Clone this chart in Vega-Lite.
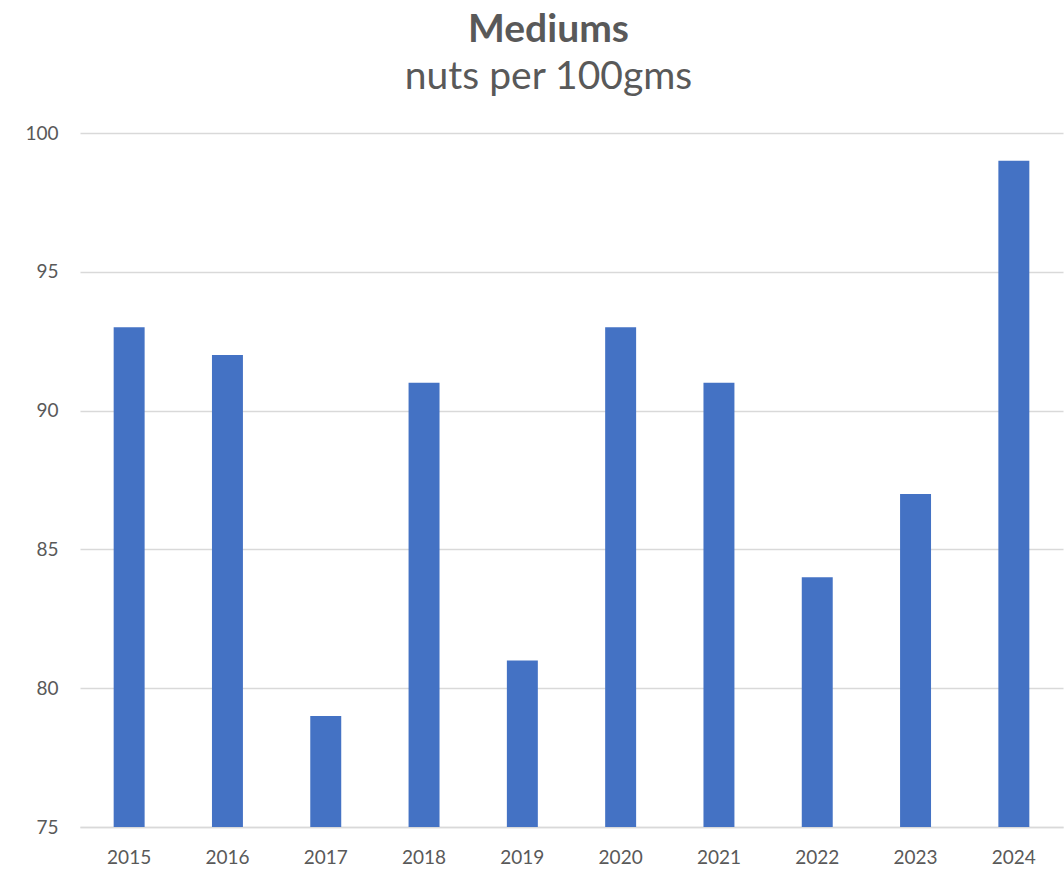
{
  "$schema": "https://vega.github.io/schema/vega-lite/v6.json",
  "autosize": "none",
  "width": 983,
  "height": 694,
  "padding": {"left": 80, "top": 133, "right": 1, "bottom": 42},
  "background": "white",
  "title": {
    "text": "Mediums",
    "subtitle": "nuts per 100gms",
    "anchor": "middle",
    "dx": -23,
    "font": "Lato",
    "fontSize": 39,
    "fontWeight": "bold",
    "color": "#595959",
    "subtitleFont": "Lato",
    "subtitleFontSize": 39,
    "subtitleColor": "#595959",
    "subtitlePadding": 8,
    "offset": 27
  },
  "config": {"view": {"stroke": null}},
  "data": {
    "values": [
      {"year": "2015", "value": 93},
      {"year": "2016", "value": 92},
      {"year": "2017", "value": 79},
      {"year": "2018", "value": 91},
      {"year": "2019", "value": 81},
      {"year": "2020", "value": 93},
      {"year": "2021", "value": 91},
      {"year": "2022", "value": 84},
      {"year": "2023", "value": 87},
      {"year": "2024", "value": 99}
    ]
  },
  "mark": {"type": "bar", "color": "#4472C4", "clip": true},
  "encoding": {
    "x": {
      "field": "year",
      "type": "ordinal",
      "scale": {"paddingInner": 0.685, "paddingOuter": 0.3425},
      "axis": {
        "title": null,
        "labelAngle": 0,
        "labelFont": "Lato",
        "labelFontSize": 19,
        "labelColor": "#595959",
        "labelPadding": 21,
        "ticks": false,
        "domain": true,
        "domainColor": "#d9d9d9",
        "domainWidth": 1.5
      }
    },
    "y": {
      "field": "value",
      "type": "quantitative",
      "scale": {"domain": [75, 100], "zero": false, "nice": false},
      "axis": {
        "title": null,
        "values": [75, 80, 85, 90, 95, 100],
        "labelFont": "Lato",
        "labelFontSize": 19,
        "labelColor": "#595959",
        "labelPadding": 22,
        "ticks": false,
        "domain": false,
        "gridColor": "#d9d9d9",
        "gridWidth": 1.5
      }
    }
  }
}
